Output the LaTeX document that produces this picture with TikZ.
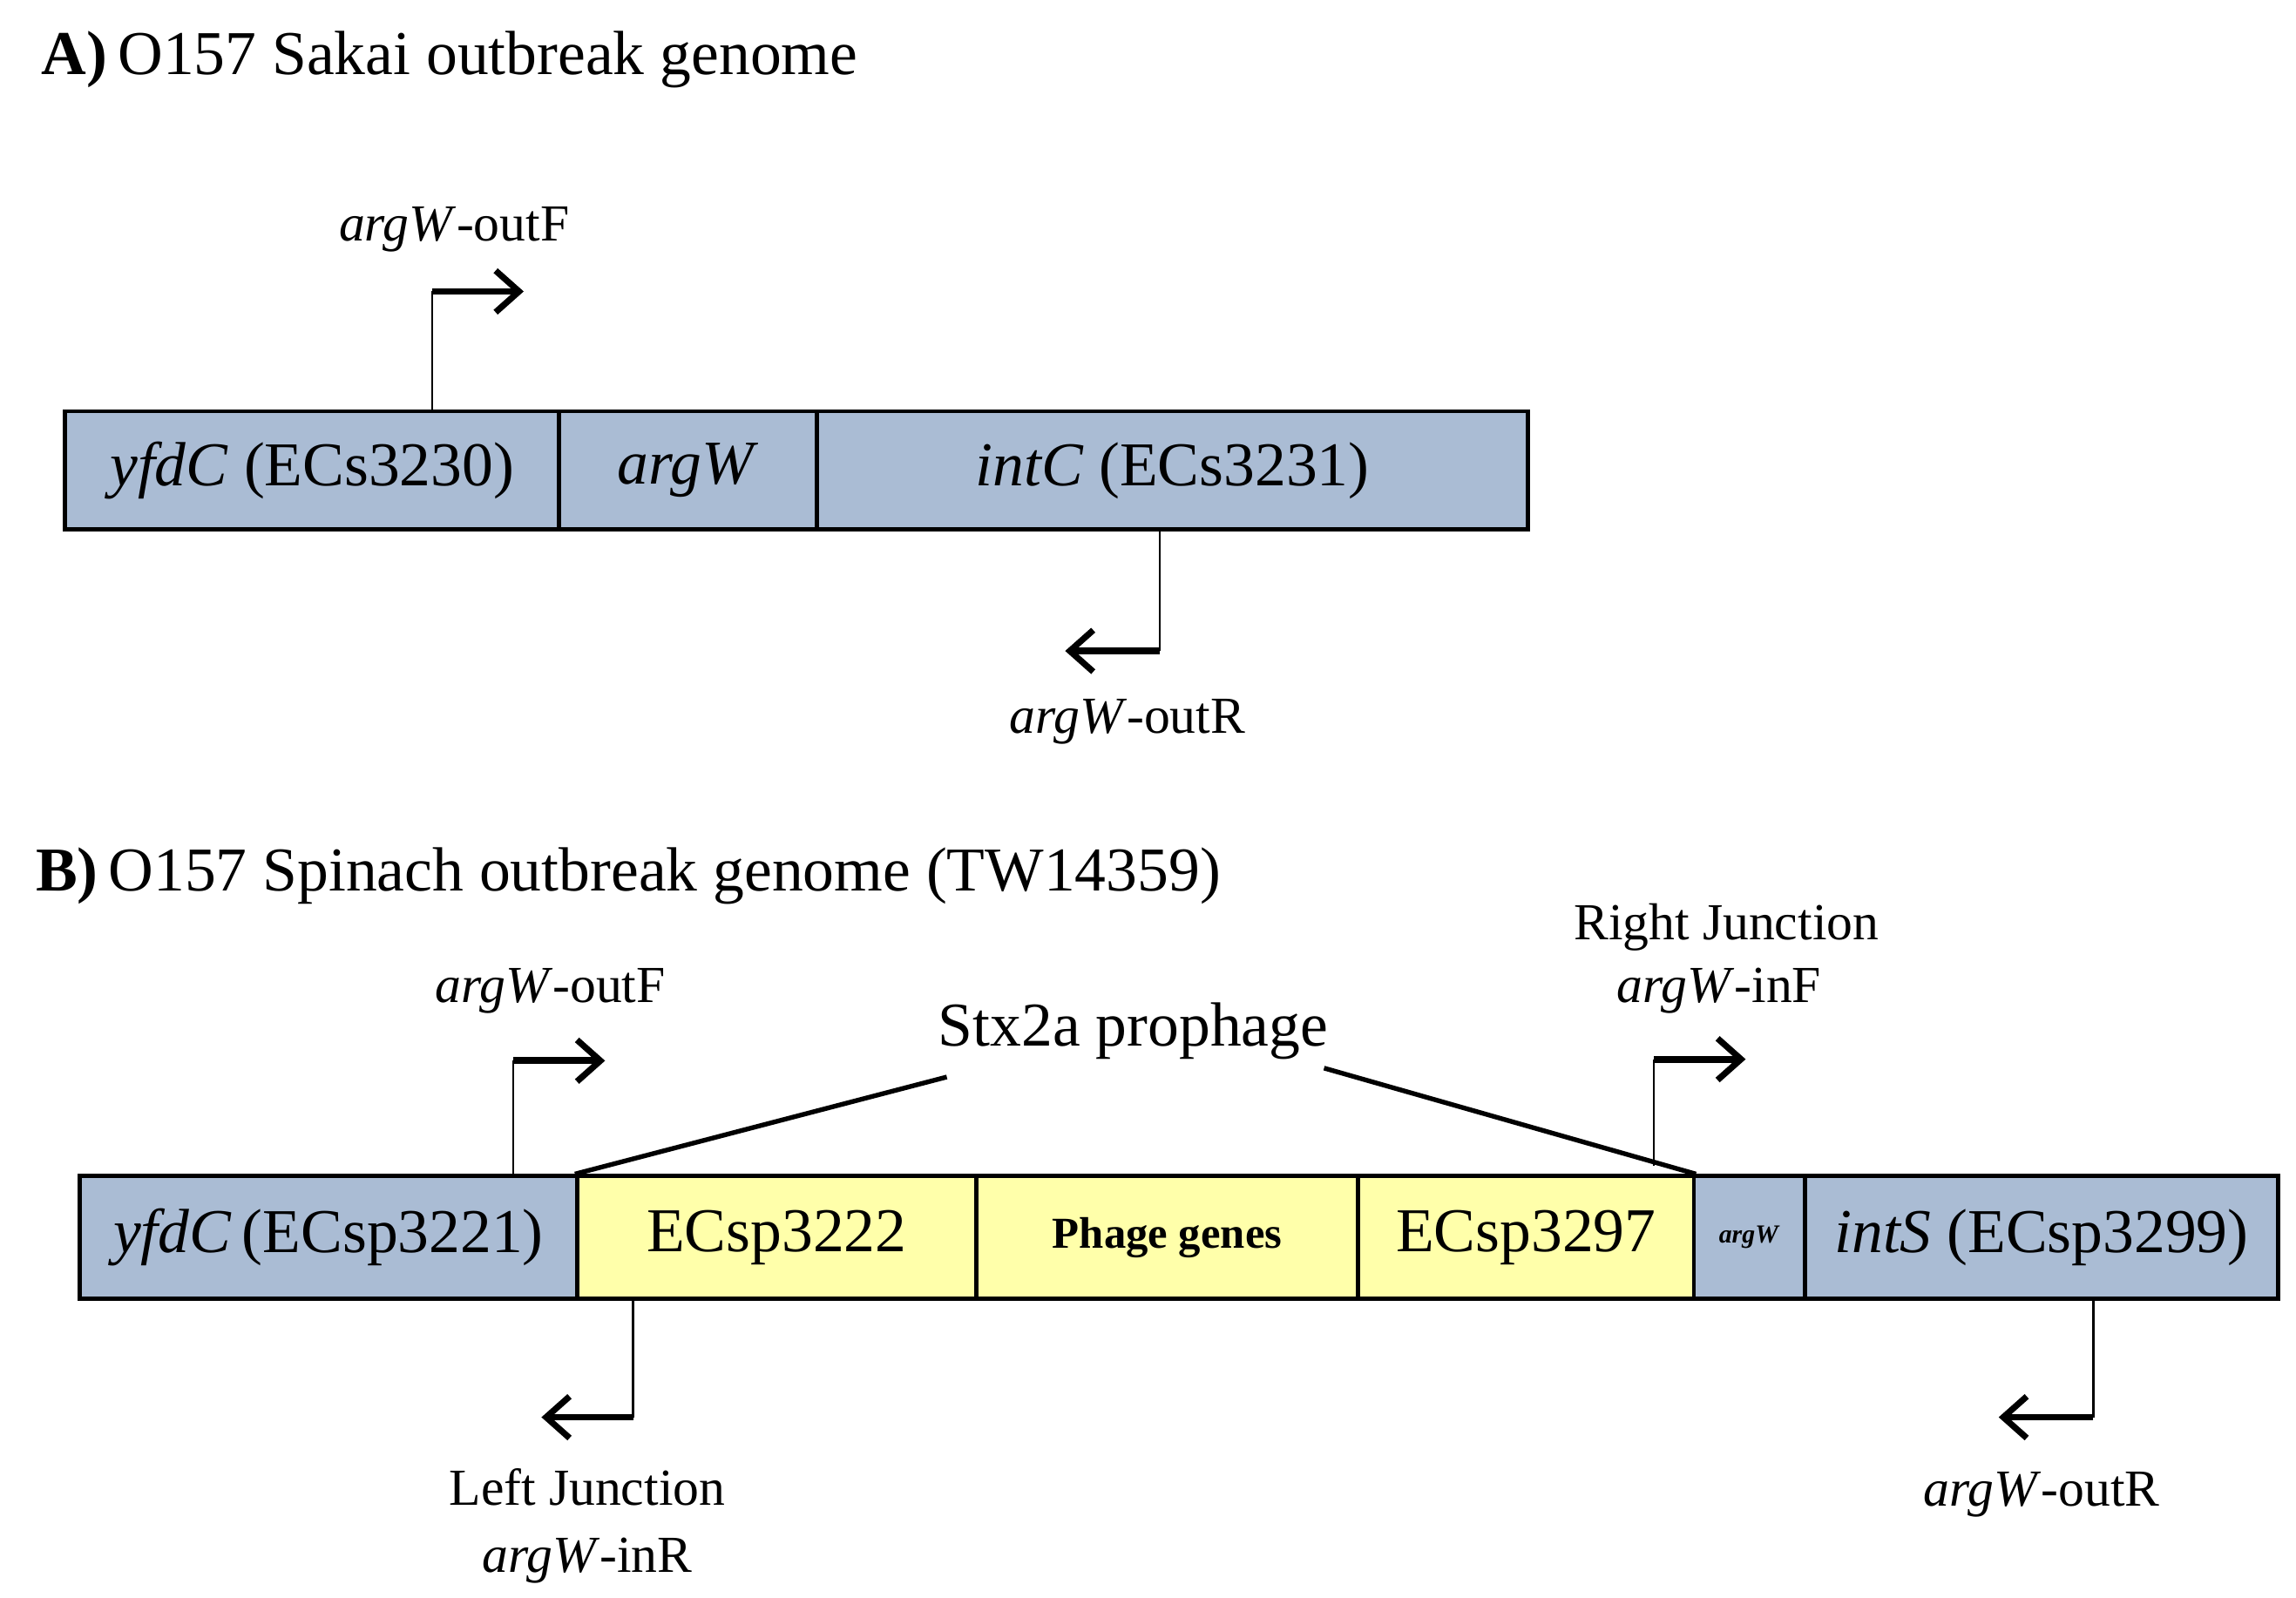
\documentclass[tikz,border=0pt]{standalone}
\usepackage{fontspec}
\setmainfont{Liberation Serif}
\usetikzlibrary{arrows.meta}
\definecolor{genblue}{RGB}{170,188,212}
\definecolor{phageyel}{RGB}{255,255,170}

\begin{document}
\begin{tikzpicture}[x=0.02cm,y=-0.02cm,
  seg/.style={draw,line width=1.6pt,inner sep=0pt,minimum height=1.6cm,
    font=\fontsize{24}{28}\selectfont},
  gene/.style={seg,fill=genblue},
  phage/.style={seg,fill=phageyel},
  stem/.style={line width=0.8pt},
  primer/.style={line width=2.6pt,-{Straight Barb[length=9pt,width=16pt,line width=2.4pt]}},
  lbl/.style={font=\fontsize{20}{24}\selectfont,inner sep=1pt},
  title/.style={font=\fontsize{24}{28}\selectfont,anchor=west}]

  \useasboundingbox (0,0) rectangle (1552,1080);

  %% A) Sakai
  \node[title] (tA) at (22,40) {\textbf{A)}\,O157 Sakai outbreak genome};
  \node[gene,minimum width=6.68cm] (yfdcA) at (211,318) {\textit{yfdC} (ECs3230)};
  \node[gene,minimum width=3.48cm] (argwA) at (465,318) {\textit{argW}};
  \node[gene,minimum width=9.62cm] (intcA) at (792.5,318) {\textit{intC} (ECs3231)};

  \coordinate (fA) at (292,197);
  \draw[stem] (yfdcA.north -| fA) -- (fA);
  \draw[primer] (fA) -- ++(62,0);
  \node[lbl] (lfA) at (307,155) {\textit{argW}-outF};

  \coordinate (rA) at (784,440);
  \draw[stem] (intcA.south -| rA) -- (rA);
  \draw[primer] (rA) -- ++(-64,0);
  \node[lbl] (lrA) at (762,488) {\textit{argW}-outR};

  %% B) Spinach
  \node[title] (tB) at (18,592) {\textbf{B)}\,O157 Spinach outbreak genome (TW14359)};
  \node[gene,minimum width=6.72cm,minimum height=1.66cm] (yfdcB) at (222,836.5) {\textit{yfdC}\,(ECsp3221)};
  \node[phage,minimum width=5.4cm,minimum height=1.66cm] (ec22) at (525,836.5) {ECsp3222};
  \node[phage,minimum width=5.16cm,minimum height=1.66cm,font=\fontsize{17}{20}\selectfont\bfseries] (phg) at (789,836.5) {Phage genes};
  \node[phage,minimum width=4.54cm,minimum height=1.66cm] (ec97) at (1031.5,836.5) {ECsp3297};
  \node[gene,minimum width=1.5cm,minimum height=1.66cm,font=\fontsize{10}{12}\selectfont\bfseries] (argwB) at (1182.5,836.5) {\textit{argW}};
  \node[gene,minimum width=6.4cm,minimum height=1.66cm] (intsB) at (1380,836.5) {\textit{intS} (ECsp3299)};

  \node[font=\fontsize{24}{28}\selectfont] (stx) at (766,697) {Stx2a prophage};
  \draw[line width=1.8pt] (ec22.north west) -- (640,728);
  \draw[line width=1.8pt] (ec97.north east) -- (895,722);

  \coordinate (fB) at (347,717);
  \draw[stem] (yfdcB.north -| fB) -- (fB);
  \draw[primer] (fB) -- ++(62,0);
  \node[lbl] (lfB) at (372,670) {\textit{argW}-outF};

  \coordinate (fR) at (1118,716);
  \draw[stem] (1118,788) -- (fR);
  \draw[primer] (fR) -- ++(62,0);
  \node[lbl] (lfR1) at (1167,627) {Right Junction};
  \node[lbl] (lfR2) at (1162,670) {\textit{argW}-inF};

  \coordinate (rL) at (428,958);
  \draw[stem] (ec22.south -| rL) -- (rL);
  \draw[primer] (rL) -- ++(-62,0);
  \node[lbl] (lrL1) at (397,1005) {Left Junction};
  \node[lbl] (lrL2) at (397,1055) {\textit{argW}-inR};

  \coordinate (rB) at (1415,958);
  \draw[stem] (intsB.south -| rB) -- (rB);
  \draw[primer] (rB) -- ++(-64,0);
  \node[lbl] (lrB) at (1380,1010) {\textit{argW}-outR};
\end{tikzpicture}
\end{document}
